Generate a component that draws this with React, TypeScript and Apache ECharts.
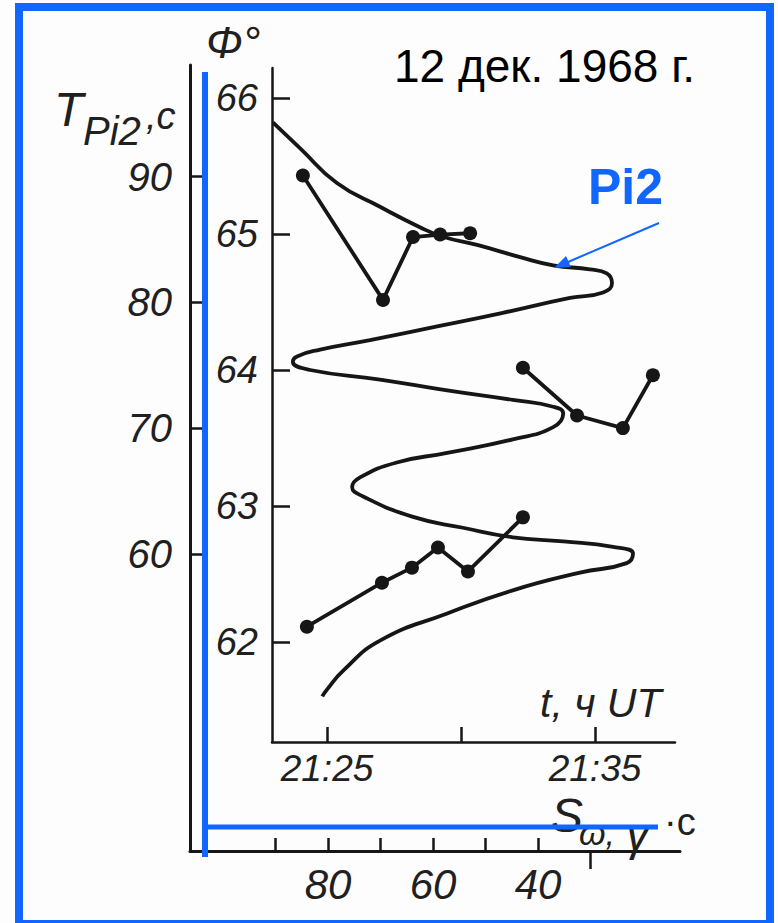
import { useEffect, useRef } from 'react';
import * as echarts from 'echarts';

// ---- data ----
const phiTicks = [62, 63, 64, 65, 66];
const tPi2Ticks = [60, 70, 80, 90];
const timeTicks = [25, 30, 35];
const timeLabels = [25, 35];
const sTicks = [90, 80, 70, 60, 50, 40];
const sLabels = [80, 60, 40];
const sDownTicks = [30];

// latitude profile S_omega(phi)
const curveS = [90.5, 85.3, 78.3, 70.1, 62.5, 58.1, 51.6, 43.4, 37.1, 30.1, 26.9, 25.9, 27.6, 33.9, 46.7, 59.2, 72.0, 81.5, 85.9, 86.7, 83.4, 70.1, 57.3, 44.8, 37.1, 35.2, 37.1, 44.8, 57.3, 66.9, 73.9, 75.4, 73.3, 63.8, 54.3, 44.8, 35.2, 25.7, 21.9, 23.1, 32.0, 44.8, 57.3, 70.1, 77.1, 80.2, 81.1];
const curvePhi = [65.82, 65.63, 65.375, 65.2, 65.05, 64.98, 64.92, 64.83, 64.77, 64.74, 64.71, 64.64, 64.57, 64.53, 64.42, 64.32, 64.22, 64.15, 64.1, 64.06, 64.0, 63.93, 63.85, 63.78, 63.73, 63.68, 63.58, 63.49, 63.39, 63.32, 63.21, 63.14, 63.07, 62.92, 62.84, 62.77, 62.74, 62.7, 62.65, 62.58, 62.51, 62.38, 62.21, 62.01, 61.79, 61.65, 61.6];

// T_Pi2 vs time (minutes after 21:00 UT)
const upperTime = [24.1, 27.09, 28.21, 29.22, 30.34];
const upperT = [90.1, 80.2, 85.2, 85.4, 85.5];
const middleTime = [32.31, 34.33, 36.04, 37.16];
const middleT = [74.8, 71.0, 70.0, 74.2];
const lowerTime = [24.25, 27.05, 28.17, 29.14, 30.26, 32.31];
const lowerT = [54.2, 57.7, 58.9, 60.5, 58.6, 62.9];

const INK = '#161616';
const TXT = '#202020';
const BLUE = '#1166ff';
const FONT = '"Liberation Sans", Arial, sans-serif';

const zip = (a: number[], b: number[]) => a.map((v, i) => [v, b[i]]);

export default function App() {
  const ref = useRef<HTMLDivElement>(null);
  useEffect(() => {
    if (!ref.current) return;
    const chart = echarts.init(ref.current, undefined, { renderer: 'svg' });
    const lbl = (size: number, margin: number, values: number[], extra: any = {}) => ({
      customValues: values,
      fontSize: size,
      fontStyle: 'italic',
      fontFamily: FONT,
      color: TXT,
      margin,
      ...extra,
    });
    const tick = (values: number[], length: number, inside = true) => ({
      show: true,
      inside,
      length,
      customValues: values,
      lineStyle: { color: INK, width: 2.5 },
    });
    const line = (w: number) => ({ show: true, lineStyle: { color: INK, width: w } });
    const txt = (text: string, x: number, y: number, size: number, italic = true, extra: any = {}) => ({
      type: 'text',
      x,
      y,
      z: 50,
      style: {
        text,
        fontSize: size,
        fontStyle: italic ? 'italic' : 'normal',
        fontFamily: FONT,
        fill: TXT,
        verticalAlign: 'middle',
        ...extra,
      },
    });
    chart.setOption({
      animation: false,
      backgroundColor: '#fdfdfd',
      grid: [
        { left: 272, top: 68, width: 403, height: 674 },
        { left: 190, top: 65, width: 490, height: 786 },
        { left: 190, top: 65, width: 490, height: 786 },
      ],
      xAxis: [
        {
          gridIndex: 0, type: 'value', min: 22.948, max: 37.985,
          axisLine: line(2.5), axisTick: tick(timeTicks, 15), splitLine: { show: false },
          axisLabel: lbl(37, 8, timeLabels, { formatter: (v: number) => `21:${v}` }),
        },
        {
          gridIndex: 1, type: 'value', inverse: true, min: 12.952, max: 106.286,
          axisLine: line(3), axisTick: tick(sTicks, 13), splitLine: { show: false },
          axisLabel: lbl(42, 12, sLabels),
        },
        {
          gridIndex: 2, type: 'value', inverse: true, min: 12.952, max: 106.286,
          axisLine: { show: false }, axisTick: tick(sDownTicks, 18, false), splitLine: { show: false },
          axisLabel: { show: false },
        },
      ],
      yAxis: [
        {
          gridIndex: 0, type: 'value', min: 61.2647, max: 66.2206,
          axisLine: line(2.5), axisTick: tick(phiTicks, 18), splitLine: { show: false },
          axisLabel: lbl(38, 14, phiTicks),
        },
        { gridIndex: 0, type: 'value', show: false, min: 45.028, max: 98.648 },
        {
          gridIndex: 1, type: 'value', min: 36.357, max: 98.886,
          axisLine: line(3), axisTick: tick(tPi2Ticks, 18), splitLine: { show: false },
          axisLabel: lbl(40, 18, tPi2Ticks),
        },
        { gridIndex: 1, type: 'value', show: false, min: 60.4632, max: 66.2426 },
        { gridIndex: 2, type: 'value', show: false, min: 0, max: 1 },
      ],
      series: [
        {
          type: 'line', name: 'S', xAxisIndex: 1, yAxisIndex: 3,
          data: zip(curveS, curvePhi), smooth: 0.5, showSymbol: false, clip: false,
          lineStyle: { color: INK, width: 3.8 },
        },
        ...[
          [upperTime, upperT],
          [middleTime, middleT],
          [lowerTime, lowerT],
        ].map(([t, v], i) => ({
          type: 'line', name: 'T' + i, xAxisIndex: 0, yAxisIndex: 1,
          data: zip(t, v), symbol: 'circle', symbolSize: 14, showSymbol: true, clip: false,
          itemStyle: { color: INK }, lineStyle: { color: INK, width: 3.8 },
        })),
      ],
      graphic: [
        { type: 'rect', z: 100, shape: { x: 19, y: 7, width: 751, height: 917 }, style: { fill: 'none', stroke: BLUE, lineWidth: 8 } },
        { type: 'line', z: 100, shape: { x1: 205, y1: 72, x2: 205, y2: 857 }, style: { stroke: BLUE, lineWidth: 6 } },
        { type: 'line', z: 100, shape: { x1: 205, y1: 827, x2: 658, y2: 827 }, style: { stroke: BLUE, lineWidth: 5 } },
        { type: 'line', z: 100, shape: { x1: 659, y1: 223, x2: 568, y2: 262 }, style: { stroke: BLUE, lineWidth: 2 } },
        { type: 'polygon', z: 100, shape: { points: [[554, 268], [571, 267], [566, 256]] }, style: { fill: BLUE } },
        txt('12 дек. 1968 г.', 394, 66, 46, false, { fill: '#000' }),
        txt('Pi2', 588, 187, 50, false, { fill: BLUE, fontWeight: 'bold' }),
        txt('Φ°', 206, 42, 44),
        txt('T', 54, 109, 48),
        txt('Pi2', 83, 131, 40),
        txt(',c', 146, 116, 38),
        txt('t, ч UT', 540, 703, 41),
        txt('S', 551, 815, 48),
        txt('ω,', 579, 833, 34),
        txt('γ', 626, 834, 46),
        txt('·c', 664, 822, 38, false),
      ],
    });
    return () => chart.dispose();
  }, []);
  return <div ref={ref} style={{ position: 'absolute', left: 0, top: 0, width: 778, height: 923 }} />;
}
